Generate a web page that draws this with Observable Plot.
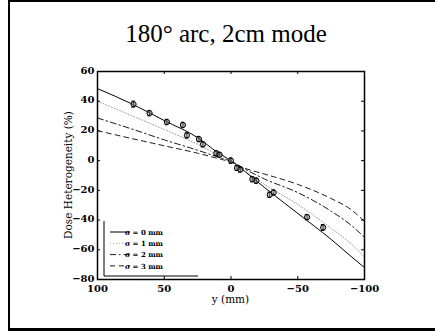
<!DOCTYPE html>
<html>
<head>
<meta charset="utf-8">
<script src="https://cdn.jsdelivr.net/npm/d3@7"></script>
<script src="https://cdn.jsdelivr.net/npm/@observablehq/plot@0.6"></script>
<style>
html,body{margin:0;padding:0;background:#fff;}
#wrap{position:relative;width:435px;height:331px;overflow:hidden;}
#chart{position:absolute;left:0;top:0;}
#border{position:absolute;left:8px;top:0;width:440px;height:326px;border-top:2px solid #000;border-left:2px solid #000;border-bottom:3px solid #000;pointer-events:none;}
#title{position:absolute;left:0;top:21px;width:452px;text-align:center;font-family:"Liberation Serif","Times New Roman",serif;font-size:25px;line-height:25px;color:#000;white-space:nowrap;}
</style>
</head>
<body>
<div id="wrap">
  <div id="chart"></div>
  <div id="title">180° arc, 2cm mode</div>
  <div id="border"></div>
</div>
<script>
// ---- data ----
const curveX = [100, 75, 50, 25, 10, 0, -10, -25, -50, -75, -90, -100];
const sigma0 = [48.5, 38.5, 27, 15.5, 5.5, 0, -7, -18, -35.5, -53, -64.5, -72];
const sigma1 = [40, 30.5, 21, 11, 4, 0, -6.5, -16, -29.5, -45.5, -56, -65];
const sigma2 = [28.7, 21.5, 14, 7, 2.5, -0.5, -5.5, -12.3, -21.5, -34, -43.5, -51.6];
const sigma3 = [20.2, 15, 10, 5, 1.5, -1, -5, -9, -16, -25.5, -33, -41];
const seriesNames = ["σ = 0 mm", "σ = 1 mm", "σ = 2 mm", "σ = 3 mm"];

const measX = [73, 61, 48, 36, 33, 24, 21, 11, 8.5, 0, -4.5, -7, -16, -19, -29, -32, -57, -69];
const measY = [38, 32, 26, 24, 17, 14.5, 11, 5, 4, 0, -5, -6, -12.5, -13.5, -23, -21.5, -38, -45];
const measErr = [2, 1.8, 1.8, 1.8, 1.8, 1.8, 1.8, 1.6, 1.6, 1.8, 1.6, 1.8, 1.8, 1.8, 1.8, 1.8, 1.8, 2];

const xTicks = [100, 50, 0, -50, -100];
const yTicks = [60, 40, 20, 0, -20, -40, -60, -80];

// ---- layout ----
const W = 435, H = 331;
const mL = 97, mR = 71, mT = 71, mB = 52;
const innerW = W - mL - mR, innerH = H - mT - mB;
const tickLen = 3;

const styles = [
  {stroke: "#000", dash: null, width: 1},
  {stroke: "#9a9a9a", dash: "1,2", width: 1},
  {stroke: "#000", dash: "6,3,1.5,3", width: 0.9},
  {stroke: "#000", dash: "5,4", width: 0.9}
];
const allSeries = [sigma0, sigma1, sigma2, sigma3];
const curves = allSeries.map((ys, k) => ({
  name: seriesNames[k],
  style: styles[k],
  pts: curveX.map((x, i) => ({x, y: ys[i]}))
}));
const meas = measX.map((x, i) => ({x, y: measY[i], e: measErr[i]}));

const fmt = d => d < 0 ? "\u2212" + (-d) : String(d);

const plot = Plot.plot({
  width: W, height: H,
  marginLeft: mL, marginRight: mR, marginTop: mT, marginBottom: mB,
  style: {fontFamily: "DejaVu Serif", fontWeight: "bold", fontSize: "10px", background: "transparent", color: "#000"},
  x: {domain: [100, -100], label: null},
  y: {domain: [-80, 60], label: null},
  marks: [
    ...curves.map(c => Plot.line(c.pts, {x: "x", y: "y", stroke: c.style.stroke, strokeDasharray: c.style.dash, strokeWidth: c.style.width, curve: "monotone-x", clip: true})),
    Plot.ruleX(meas, {x: "x", y1: d => d.y - d.e, y2: d => d.y + d.e, stroke: "#000", strokeWidth: 1}),
    Plot.ruleY(meas, {y: d => d.y - d.e, x1: d => d.x + 1.3, x2: d => d.x - 1.3, stroke: "#000", strokeWidth: 1}),
    Plot.ruleY(meas, {y: d => d.y + d.e, x1: d => d.x + 1.3, x2: d => d.x - 1.3, stroke: "#000", strokeWidth: 1}),
    Plot.dot(meas, {x: "x", y: "y", r: 2.6, stroke: "#000", fill: "#888", fillOpacity: 0.5, strokeWidth: 1}),
    Plot.tickX(xTicks, {x: d => d, insetTop: innerH - tickLen, stroke: "#000"}),
    Plot.tickX(xTicks, {x: d => d, insetBottom: innerH - tickLen, stroke: "#000"}),
    Plot.tickY(yTicks, {y: d => d, insetRight: innerW - tickLen, stroke: "#000"}),
    Plot.tickY(yTicks, {y: d => d, insetLeft: innerW - tickLen, stroke: "#000"}),
    Plot.axisX(xTicks, {tickSize: 0, tickPadding: 5, tickFormat: fmt, label: null}),
    Plot.axisY(yTicks, {tickSize: 0, tickPadding: 3, dy: -1, tickFormat: fmt, label: null}),
    Plot.frame({stroke: "#000", strokeWidth: 1.5})
  ]
});
document.getElementById("chart").appendChild(plot);

// axis labels and legend
const svg = d3.select(plot);
const xs = plot.scale("x"), ys = plot.scale("y");
const cx = (xs.range[0] + xs.range[1]) / 2;
const cy = (ys.range[0] + ys.range[1]) / 2;
svg.append("text").attr("x", cx).attr("y", 303).attr("text-anchor", "middle")
  .attr("font-family", "DejaVu Serif").attr("font-size", "10.5px").attr("font-weight", "normal")
  .attr("fill", "#000").text("y (mm)");
svg.append("text").attr("transform", `translate(72,${cy}) rotate(-90)`).attr("text-anchor", "middle")
  .attr("font-family", "DejaVu Serif").attr("font-size", "10.5px").attr("font-weight", "normal")
  .attr("fill", "#000").text("Dose Heterogeneity (%)");

const lg = svg.append("g");
lg.append("line").attr("x1", 104).attr("x2", 104).attr("y1", 221).attr("y2", 276).attr("stroke", "#000").attr("stroke-width", 1);
lg.append("line").attr("x1", 104).attr("x2", 198).attr("y1", 276).attr("y2", 276).attr("stroke", "#000").attr("stroke-width", 1);
curves.forEach((c, k) => {
  const yy = 232 + k * 11.3;
  lg.append("line").attr("x1", 110).attr("x2", 130).attr("y1", yy).attr("y2", yy)
    .attr("stroke", c.style.stroke).attr("stroke-width", c.style.width)
    .attr("stroke-dasharray", c.style.dash);
  lg.append("text").attr("x", 144).attr("y", yy + 2.6)
    .attr("font-family", "DejaVu Serif").attr("font-size", "7px").attr("font-weight", "bold")
    .attr("fill", "#000").text(c.name);
});
</script>
</body>
</html>
